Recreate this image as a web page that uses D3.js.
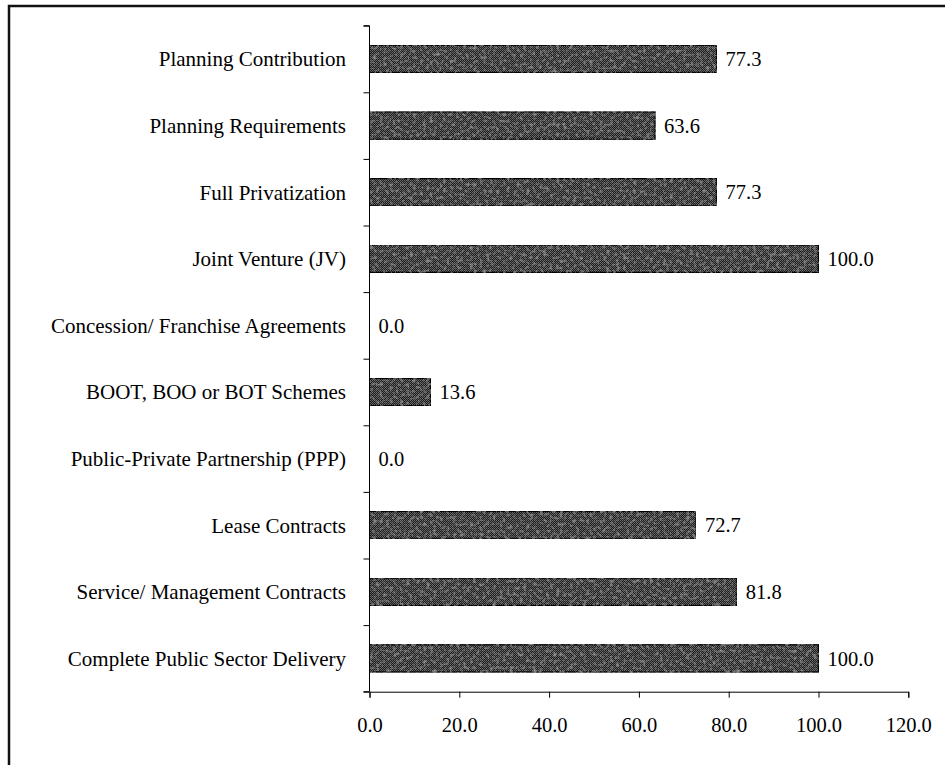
<!DOCTYPE html>
<html>
<head>
<meta charset="utf-8">
<script src="https://cdn.jsdelivr.net/npm/d3@7"></script>
<style>
  html, body { margin: 0; padding: 0; background: #fff; }
  svg { display: block; }
  text { font-family: "Liberation Serif", "Times New Roman", serif; fill: #000; }
</style>
</head>
<body>
<svg id="chart" width="945" height="765"></svg>
<script>
// Delivery approaches and the share (%) reported for each
const categories = [
  "Planning Contribution",
  "Planning Requirements",
  "Full Privatization",
  "Joint Venture (JV)",
  "Concession/ Franchise Agreements",
  "BOOT, BOO or BOT Schemes",
  "Public-Private Partnership (PPP)",
  "Lease Contracts",
  "Service/ Management Contracts",
  "Complete Public Sector Delivery"
];
const values = [77.3, 63.6, 77.3, 100.0, 0.0, 13.6, 0.0, 72.7, 81.8, 100.0];
const xTicks = [0, 20, 40, 60, 80, 100, 120];

const svg = d3.select("#chart");

// Outer frame (runs off the right and bottom edges)
svg.append("rect")
  .attr("x", 9).attr("y", 6)
  .attr("width", 1000).attr("height", 1000)
  .attr("fill", "none").attr("stroke", "#111").attr("stroke-width", 2.5);

// Grainy dithered fill for the bars
const defs = svg.append("defs");
const pat = defs.append("pattern")
  .attr("id", "dither").attr("patternUnits", "userSpaceOnUse")
  .attr("width", 2).attr("height", 2);
pat.append("rect").attr("width", 2).attr("height", 2).attr("fill", "#1c1c1c");
pat.append("rect").attr("width", 1).attr("height", 1).attr("fill", "#6e6e6e");
pat.append("rect").attr("x", 1).attr("y", 1).attr("width", 1).attr("height", 1).attr("fill", "#5a5a5a");

const grain = defs.append("filter").attr("id", "grain")
  .attr("x", 0).attr("y", 0).attr("width", 1).attr("height", 1);
grain.append("feTurbulence").attr("type", "fractalNoise")
  .attr("baseFrequency", "0.3").attr("numOctaves", 2).attr("seed", 7).attr("result", "noise");
grain.append("feColorMatrix").attr("in", "noise").attr("type", "matrix")
  .attr("values", "0 0 0 0 0.5  0 0 0 0 0.5  0 0 0 0 0.5  1.4 0 0 0 -0.72")
  .attr("result", "spots");
grain.append("feComposite").attr("in", "spots").attr("in2", "SourceGraphic")
  .attr("operator", "in").attr("result", "clipped");
grain.append("feMerge").call(m => {
  m.append("feMergeNode").attr("in", "SourceGraphic");
  m.append("feMergeNode").attr("in", "clipped");
});

const x = d3.scaleLinear().domain([0, 120]).range([369.5, 908.3]);
const y = d3.scaleBand().domain(categories).range([25.7, 691.7])
  .paddingInner(0.59).paddingOuter(0.295);
const yEdges = d3.scaleLinear().domain([0, categories.length]).range([25.7, 691.7]);

const rows = categories.map((c, i) => ({ c, v: values[i] }));

// Bars
svg.append("g").selectAll("rect")
  .data(rows)
  .join("rect")
  .attr("x", x(0))
  .attr("y", d => y(d.c))
  .attr("width", d => x(d.v) - x(0))
  .attr("height", y.bandwidth())
  .attr("fill", "url(#dither)")
  .attr("stroke", "#000").attr("stroke-width", 1.2)
  .attr("filter", "url(#grain)");

// Value labels
svg.append("g").selectAll("text")
  .data(rows)
  .join("text")
  .attr("x", d => x(d.v) + 9)
  .attr("y", d => y(d.c) + y.bandwidth() / 2)
  .attr("dy", "0.35em")
  .attr("font-size", 20.5)
  .text(d => d.v.toFixed(1));

// Category axis: tick marks at category boundaries
const yAxis = svg.append("g").attr("transform", `translate(${x(0)},0)`)
  .call(d3.axisLeft(yEdges).tickValues(d3.range(categories.length + 1))
    .tickSize(6).tickFormat(""));
yAxis.select(".domain").attr("stroke", "#000").attr("d", `M-6,25.7H0V691.7H-6`);
yAxis.selectAll(".tick line").attr("stroke", "#000");

// Category labels
svg.append("g").selectAll("text")
  .data(categories)
  .join("text")
  .attr("x", 346)
  .attr("y", d => y(d) + y.bandwidth() / 2)
  .attr("dy", "0.35em")
  .attr("text-anchor", "end")
  .attr("font-size", 21)
  .text(d => d);

// Value axis
const xAxis = svg.append("g").attr("transform", `translate(0,691.7)`)
  .call(d3.axisBottom(x).tickValues(xTicks).tickSize(6).tickPadding(20)
    .tickFormat(d => d.toFixed(1)));
xAxis.select(".domain").attr("stroke", "#000");
xAxis.selectAll(".tick line").attr("stroke", "#000");
xAxis.selectAll(".tick text")
  .attr("font-family", "Liberation Serif, Times New Roman, serif")
  .attr("font-size", 20.5).attr("fill", "#000");
</script>
</body>
</html>
